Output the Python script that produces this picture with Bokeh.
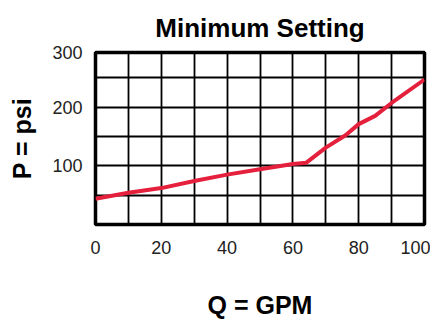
from bokeh.plotting import figure
from bokeh.models import FixedTicker, Range1d
from bokeh.embed import file_html
from bokeh.resources import INLINE

# Data
flow_gpm = [0, 10, 20, 30, 40, 50, 60, 64, 70, 76, 80, 85, 90, 100]
pressure_psi = [44, 54, 62, 74, 85, 94, 103, 105, 131, 152, 171, 185, 207, 247]

x_tick_values = [0, 20, 40, 60, 80, 100]
y_tick_values = [100, 200, 293]
y_tick_labels = {293: "300"}
x_grid_values = [10, 20, 30, 40, 50, 60, 70, 80, 90]
y_grid_values = [50, 100, 150, 200, 250]

FONT = "Liberation Sans"

p = figure(width=430, height=321, output_backend="svg", toolbar_location=None,
           x_range=Range1d(0, 100), y_range=Range1d(0, 293),
           min_border_left=95, min_border_right=6, min_border_top=51,
           min_border_bottom=94, background_fill_color="white",
           border_fill_color="white")

p.title.text = "Minimum Setting"
p.title.align = "center"
p.title.text_font = FONT
p.title.text_font_size = "26px"
p.title.text_font_style = "bold"
p.title.text_color = "black"
p.title.standoff = 20

p.outline_line_color = "black"
p.outline_line_width = 3.5
p.outline_line_alpha = 1.0

p.xgrid.ticker = FixedTicker(ticks=x_grid_values)
p.ygrid.ticker = FixedTicker(ticks=y_grid_values)
for g in (p.xgrid, p.ygrid):
    g.grid_line_color = "black"
    g.grid_line_width = 1.8
    g.grid_line_alpha = 1.0

p.line(flow_gpm, pressure_psi, line_color="#E4203C", line_width=4)

xa = p.xaxis[0]
xa.ticker = FixedTicker(ticks=x_tick_values)
xa.axis_label = "Q = GPM"
ya = p.yaxis[0]
ya.ticker = FixedTicker(ticks=y_tick_values)
ya.major_label_overrides = y_tick_labels
ya.axis_label = "P = psi"

for ax in (xa, ya):
    ax.axis_line_color = None
    ax.major_tick_line_color = None
    ax.minor_tick_line_color = None
    ax.major_tick_out = 0
    ax.major_tick_in = 0
    ax.major_label_text_font = FONT
    ax.major_label_text_font_size = "18px"
    ax.major_label_text_color = "#222222"
    ax.axis_label_text_font = FONT
    ax.axis_label_text_font_size = "25px"
    ax.axis_label_text_font_style = "bold"
    ax.axis_label_text_color = "black"

xa.major_label_text_align = "right"
xa.major_label_standoff = 16
xa.axis_label_standoff = 34
ya.major_label_standoff = 13
ya.axis_label_standoff = 13

open("out.html", "w").write(file_html(p, INLINE))
